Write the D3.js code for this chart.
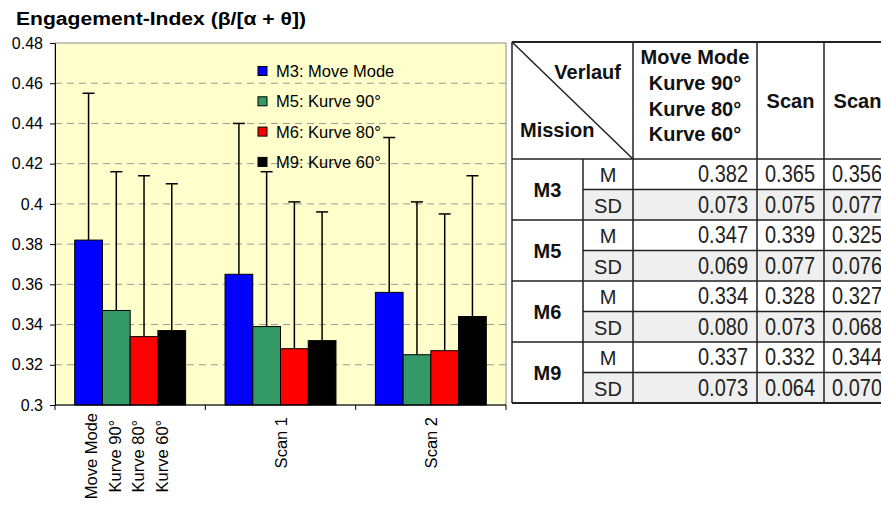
<!DOCTYPE html>
<html>
<head>
<meta charset="utf-8">
<script src="https://cdn.jsdelivr.net/npm/d3@7"></script>
<style>
body { margin: 0; background: #fff; }
text { font-family: "Liberation Sans", Arial, sans-serif; }
</style>
</head>
<body>
<div id="chart"></div>
<script>
var categories = ["Move Mode", "Scan 1", "Scan 2"];
var categoryLines = [["Move Mode", "Kurve 90°", "Kurve 80°", "Kurve 60°"], ["Scan 1"], ["Scan 2"]];
var seriesNames = ["M3: Move Mode", "M5: Kurve 90°", "M6: Kurve 80°", "M9: Kurve 60°"];
var missions = ["M3", "M5", "M6", "M9"];

// means (M) and standard deviations (SD) per mission, one value per category
var m3Mean = [0.382, 0.365, 0.356];
var m3Sd = [0.073, 0.075, 0.077];
var m5Mean = [0.347, 0.339, 0.325];
var m5Sd = [0.069, 0.077, 0.076];
var m6Mean = [0.334, 0.328, 0.327];
var m6Sd = [0.080, 0.073, 0.068];
var m9Mean = [0.337, 0.332, 0.344];
var m9Sd = [0.073, 0.064, 0.070];

var yTicks = [0.3, 0.32, 0.34, 0.36, 0.38, 0.4, 0.42, 0.44, 0.46, 0.48];
var tableHeader = [["Move Mode", "Kurve 90°", "Kurve 80°", "Kurve 60°"], ["Scan"], ["Scan"]];

var means = [m3Mean, m5Mean, m6Mean, m9Mean];
var sds = [m3Sd, m5Sd, m6Sd, m9Sd];

var width = 881, height = 506;
var plot = { left: 55, top: 43, right: 506, bottom: 405 };

var svg = d3.select("#chart")
    .append("svg")
    .attr("width", width)
    .attr("height", height);

svg.append("text")
    .attr("x", 16)
    .attr("y", 25)
    .attr("font-size", 18)
    .attr("font-weight", "bold")
    .attr("textLength", 290)
    .attr("lengthAdjust", "spacingAndGlyphs")
    .text("Engagement-Index (β/[α + θ])");

var y = d3.scaleLinear().domain([0.3, 0.48]).range([plot.bottom, plot.top]);
var x0 = d3.scaleBand().domain(categories).range([plot.left, plot.right]);
var x1 = d3.scaleBand().domain(seriesNames).range([0, x0.bandwidth()]).paddingOuter(0.71);
var color = d3.scaleOrdinal()
    .domain(seriesNames)
    .range(["#0000ff", "#339966", "#ff0000", "#000000"]);

// plot area
svg.append("rect")
    .attr("x", plot.left)
    .attr("y", plot.top)
    .attr("width", plot.right - plot.left)
    .attr("height", plot.bottom - plot.top)
    .attr("fill", "#ffffcc")
    .attr("stroke", "#8c8c8c");

svg.append("g")
    .selectAll("line")
    .data(yTicks.filter(d => d > 0.3 && d < 0.48))
    .join("line")
    .attr("x1", plot.left)
    .attr("x2", plot.right)
    .attr("y1", d => y(d))
    .attr("y2", d => y(d))
    .attr("stroke", "#9a9a9a")
    .attr("stroke-dasharray", "7,5");

var bars = [];
seriesNames.forEach((s, i) => {
    categories.forEach((c, j) => {
        bars.push({ series: s, category: c, mean: means[i][j], sd: sds[i][j] });
    });
});

svg.append("g")
    .selectAll("rect")
    .data(bars)
    .join("rect")
    .attr("x", d => x0(d.category) + x1(d.series))
    .attr("y", d => y(d.mean))
    .attr("width", x1.bandwidth())
    .attr("height", d => y(0.3) - y(d.mean))
    .attr("fill", d => color(d.series))
    .attr("stroke", "#000")
    .attr("stroke-width", 1);

var err = svg.append("g")
    .attr("stroke", "#000")
    .attr("stroke-width", 1.5)
    .selectAll("g")
    .data(bars)
    .join("g")
    .attr("transform", d => "translate(" + (x0(d.category) + x1(d.series) + x1.bandwidth() / 2) + ",0)");
err.append("line")
    .attr("y1", d => y(d.mean))
    .attr("y2", d => y(d.mean + d.sd));
err.append("line")
    .attr("x1", -6)
    .attr("x2", 6)
    .attr("y1", d => y(d.mean + d.sd))
    .attr("y2", d => y(d.mean + d.sd));

// y axis
var yAxis = svg.append("g")
    .attr("transform", "translate(" + plot.left + ",0)")
    .call(d3.axisLeft(y)
        .tickValues(yTicks)
        .tickSize(5)
        .tickSizeOuter(0)
        .tickPadding(7)
        .tickFormat(d => String(+d.toFixed(2))));
yAxis.attr("font-size", 16).attr("font-family", null);
yAxis.selectAll("text").attr("fill", "#000");
yAxis.selectAll("line, path").attr("stroke", "#000");

// x axis: ticks sit on the category boundaries
var xg = svg.append("g").attr("stroke", "#000");
xg.append("line")
    .attr("x1", plot.left)
    .attr("x2", plot.right)
    .attr("y1", plot.bottom)
    .attr("y2", plot.bottom);
xg.selectAll(".tick")
    .data(categories.map(c => x0(c)).concat([plot.right]))
    .join("line")
    .attr("class", "tick")
    .attr("x1", d => d)
    .attr("x2", d => d)
    .attr("y1", plot.bottom)
    .attr("y2", plot.bottom + 5);

// multi-line category labels: lines centred inside a block that hangs from the axis
var xl = svg.append("g")
    .selectAll("g")
    .data(categories)
    .join("g");
xl.each(function (c, j) {
    var lines = categoryLines[j];
    var n = lines.length;
    var cx = x0(c) + x0.bandwidth() / 2 + (n > 1 ? 2.3 : 6);
    var texts = d3.select(this).selectAll("text")
        .data(lines)
        .join("text")
        .attr("text-anchor", "middle")
        .attr("font-size", 16.5)
        .text(t => t);
    var maxLen = d3.max(texts.nodes(), t => t.getComputedTextLength());
    var top = n > 1 ? 413 : 417;
    texts.attr("transform", (t, k) => "translate(" + (cx + (k - (n - 1) / 2) * 23.7) + "," + (top + maxLen / 2) + ") rotate(-90)");
});

// legend
var legend = svg.append("g")
    .selectAll("g")
    .data(seriesNames)
    .join("g")
    .attr("transform", (d, i) => "translate(258," + (71 + i * 30.3) + ")");
legend.append("rect")
    .attr("x", 0)
    .attr("y", -4.5)
    .attr("width", 9)
    .attr("height", 9)
    .attr("fill", d => color(d))
    .attr("stroke", "#000");
legend.append("text")
    .attr("x", 18)
    .attr("dy", "0.36em")
    .attr("font-size", 16.5)
    .text(d => d);

// table
var tbl = { left: 512, top: 42, headH: 117, rowH: 30.5 };
var colW = [71, 50, 124, 67, 67];
var colX = [tbl.left];
colW.forEach(w => colX.push(colX[colX.length - 1] + w));
var rowY = d3.range(missions.length * 2 + 1).map(r => tbl.top + tbl.headH + r * tbl.rowH);
var tRight = colX[colX.length - 1];
var tBottom = rowY[rowY.length - 1];

var tg = svg.append("g");
// SD rows shaded
tg.selectAll(".sd")
    .data(missions)
    .join("rect")
    .attr("class", "sd")
    .attr("x", colX[1])
    .attr("y", (m, i) => rowY[i * 2 + 1])
    .attr("width", tRight - colX[1])
    .attr("height", tbl.rowH)
    .attr("fill", "#efefef");

var lines = tg.append("g").attr("stroke", "#222").attr("stroke-width", 1.5);
lines.append("line").attr("x1", colX[0]).attr("y1", tbl.top).attr("x2", colX[2]).attr("y2", rowY[0]);
// vertical lines
[colX[0], colX[2], colX[3], colX[4], colX[5]].forEach(x => {
    lines.append("line").attr("x1", x).attr("x2", x).attr("y1", tbl.top).attr("y2", tBottom);
});
lines.append("line").attr("x1", colX[1]).attr("x2", colX[1]).attr("y1", rowY[0]).attr("y2", tBottom);
// horizontal lines
lines.append("line").attr("x1", colX[0]).attr("x2", tRight).attr("y1", tbl.top).attr("y2", tbl.top).attr("stroke-width", 2);
rowY.forEach((ry, r) => {
    lines.append("line")
        .attr("x1", r % 2 === 0 ? colX[0] : colX[1])
        .attr("x2", tRight)
        .attr("y1", ry)
        .attr("y2", ry)
        .attr("stroke-width", r === rowY.length - 1 ? 2 : 1.5);
});

var bold = { "font-weight": "bold", "font-size": 20, "fill": "#111" };
function addText(x, yy, str, anchor, style) {
    var t = tg.append("text").attr("x", x).attr("y", yy).attr("text-anchor", anchor).text(str);
    Object.keys(style).forEach(k => t.attr(k, style[k]));
    return t;
}
addText(colX[2] - 12, 79, "Verlauf", "end", bold);
addText(colX[0] + 8, 137, "Mission", "start", bold);
tableHeader.forEach((h, i) => {
    var cx = (colX[i + 2] + colX[i + 3]) / 2;
    var base = h.length > 1 ? 64 : 107.5;
    h.forEach((s, k) => addText(cx, base + k * 25.8, s, "middle", bold));
});

// values are drawn tall and narrow like the original cell font
var plain = { "font-size": 20, "fill": "#222" };
var narrow = { "font-size": 24, "fill": "#222", "textLength": 50, "lengthAdjust": "spacingAndGlyphs" };
missions.forEach((m, i) => {
    addText((colX[0] + colX[1]) / 2, rowY[i * 2 + 1] + 7, m, "middle", bold);
    ["M", "SD"].forEach((lab, k) => {
        var vals = k === 0 ? means[i] : sds[i];
        var base = rowY[i * 2 + k] + 23;
        addText((colX[1] + colX[2]) / 2, base, lab, "middle", plain);
        vals.forEach((v, j) => addText(colX[j + 3] - 9, base, v.toFixed(3), "end", narrow));
    });
});
</script>
</body>
</html>
